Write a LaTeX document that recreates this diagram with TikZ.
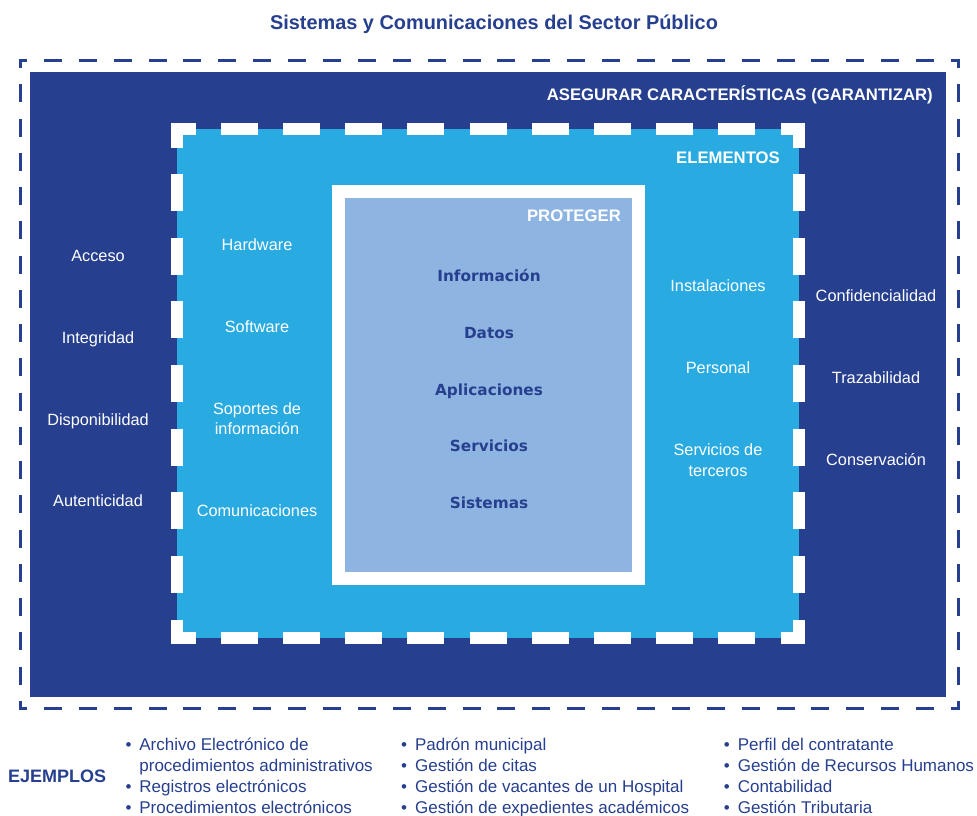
\documentclass[tikz,border=0pt]{standalone}
\usepackage{fontspec}
\setmainfont{Liberation Sans}
\newfontfamily\heavyfont{DejaVu Sans}

\definecolor{navy}{RGB}{38,63,142}
\definecolor{sky}{RGB}{41,171,226}
\definecolor{steel}{RGB}{142,180,226}

% one dashed side: line width/dash/corner arm/number of dashes/length
\newcommand{\dashedge}[4]{%
  \foreach \lw/\dl/\arm/\num/\len in {#2}{%
    \pgfmathsetmacro\doff{(\len-2*\arm-\num*\dl)/(\num+1)}%
    \pgfmathsetmacro\dph{\dl-\arm}%
    \draw[#1,line width=\lw pt,
      dash pattern=on \dl pt off \doff pt,dash phase=\dph pt] #3 -- #4;
  }}

\begin{document}
\begin{tikzpicture}
  [x=1pt,y=-1pt,every node/.style={inner sep=0pt},
   lbl/.style={white,font=\fontsize{16.3}{20.5}\selectfont,text height=11.7pt,text depth=0pt},
   lbltwo/.style={white,font=\fontsize{16.3}{20.5}\selectfont,align=center},
   head/.style={white,anchor=east,font=\bfseries\fontsize{16.7}{20}\selectfont,text height=11.9pt,text depth=0pt},
   item/.style={navy,font=\heavyfont\bfseries\fontsize{15.3}{18}\selectfont,text height=11.2pt,text depth=0pt},
   exlist/.style={navy,anchor=north west,align=left,font=\fontsize{17}{21}\selectfont}]
  \useasboundingbox (0,0) rectangle (977,816);

  \node[navy,font=\bfseries\fontsize{19.9}{22}\selectfont,text height=14.2pt,text depth=0pt]
    (title) at (494,22) {Sistemas y Comunicaciones del Sector Público};

  % garantizar
  \fill[navy] (30,72) rectangle (946,697);
  \dashedge{navy}{3/18/8.5/26/941}{(18.5,61)}{(959.5,61)}
  \dashedge{navy}{3/18/8.5/26/941}{(18.5,708)}{(959.5,708)}
  \dashedge{navy}{3/18/8.5/18/650}{(20,59.5)}{(20,709.5)}
  \dashedge{navy}{3/18/8.5/18/650}{(958,59.5)}{(958,709.5)}
  \node[head] (asegurar) at (933,95) {ASEGURAR CARACTERÍSTICAS (GARANTIZAR)};

  % elementos
  \fill[sky] (177,129) rectangle (799,638);
  \dashedge{white}{12/37/24.5/9/634}{(171,129)}{(805,129)}
  \dashedge{white}{12/37/24.5/9/634}{(171,638)}{(805,638)}
  \dashedge{white}{12/37/24.5/7/521}{(177,123)}{(177,644)}
  \dashedge{white}{12/37/24.5/7/521}{(799,123)}{(799,644)}
  \node[head] (elementos) at (780,158) {ELEMENTOS};

  % proteger
  \draw[white,line width=13pt,fill=steel] (338.5,191.5) rectangle (638.5,578.5);
  \node[head] (proteger) at (621,216) {PROTEGER};

  \foreach \txt/\y [count=\i] in {Acceso/256,Integridad/338,Disponibilidad/420,Autenticidad/501}
    \node[lbl] (car\i) at (98,\y) {\txt};
  \foreach \txt/\y [count=\i from 5] in {Confidencialidad/296,Trazabilidad/378,Conservación/460}
    \node[lbl] (car\i) at (876,\y) {\txt};

  \node[lbl] (elem1) at (257,245) {Hardware};
  \node[lbl] (elem2) at (257,327) {Software};
  \node[lbltwo] (elem3) at (257,418.5) {Soportes de\\información};
  \node[lbl] (elem4) at (257,511) {Comunicaciones};
  \node[lbl] (elem5) at (718,286) {Instalaciones};
  \node[lbl] (elem6) at (718,368) {Personal};
  \node[lbltwo] (elem7) at (718,460) {Servicios de\\terceros};

  \foreach \txt/\y [count=\i] in {Información/276,Datos/333,Aplicaciones/390,Servicios/446,Sistemas/503}
    \node[item] (dato\i) at (489,\y) {\txt};

  % ejemplos
  \node[navy,anchor=west,font=\bfseries\fontsize{18}{21}\selectfont,text height=12.9pt,text depth=0pt]
    (ejemplos) at (8,776) {EJEMPLOS};
  \node[exlist] (ex1) at (125.3,738) {\makebox[13.9pt][l]{\textbullet}Archivo Electrónico de\\
    \hspace*{13.9pt}procedimientos administrativos\\
    \makebox[13.9pt][l]{\textbullet}Registros electrónicos\\
    \makebox[13.9pt][l]{\textbullet}Procedimientos electrónicos};
  \node[exlist] (ex2) at (401,738) {\makebox[13.9pt][l]{\textbullet}Padrón municipal\\
    \makebox[13.9pt][l]{\textbullet}Gestión de citas\\
    \makebox[13.9pt][l]{\textbullet}Gestión de vacantes de un Hospital\\
    \makebox[13.9pt][l]{\textbullet}Gestión de expedientes académicos};
  \node[exlist] (ex3) at (723.7,738) {\makebox[13.9pt][l]{\textbullet}Perfil del contratante\\
    \makebox[13.9pt][l]{\textbullet}Gestión de Recursos Humanos\\
    \makebox[13.9pt][l]{\textbullet}Contabilidad\\
    \makebox[13.9pt][l]{\textbullet}Gestión Tributaria};
\end{tikzpicture}
\end{document}
